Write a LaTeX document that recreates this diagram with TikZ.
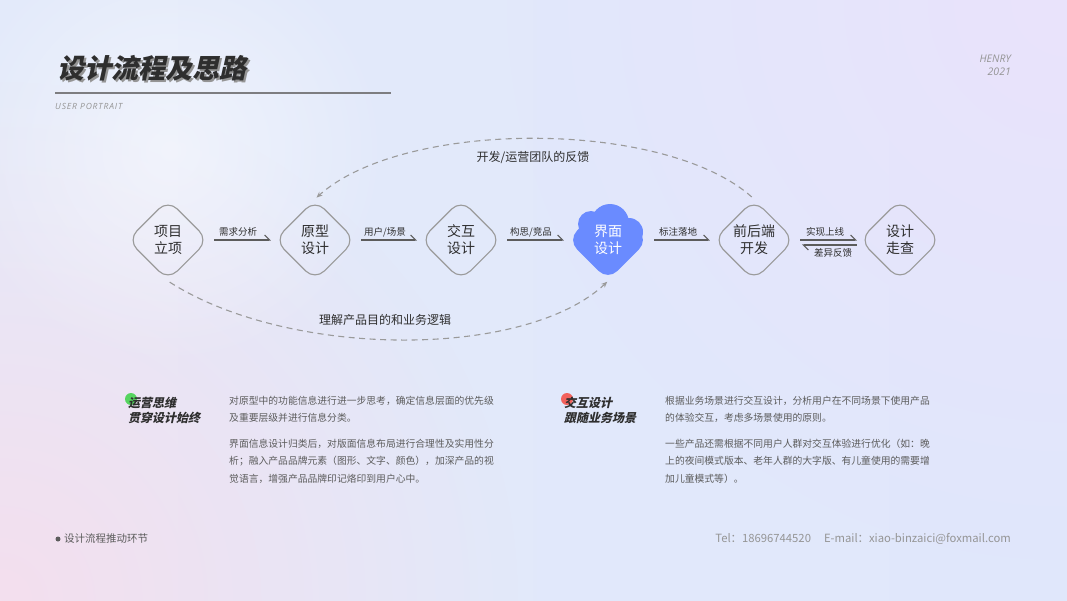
\documentclass[tikz,border=0pt]{standalone}
\usepackage{fontspec}
\setmainfont{Noto Sans CJK SC}
\newfontfamily\slantfont{Noto Sans CJK SC}[FakeSlant=0.22]
\newfontfamily\enfont{Open Sans}
\usetikzlibrary{arrows.meta,shapes.geometric,positioning,calc,fadings}
\definecolor{ink}{HTML}{2E2E2E}
\definecolor{txt}{HTML}{5C5C5C}
\definecolor{rim}{HTML}{9A9A9A}
\definecolor{soft}{HTML}{959595}
\definecolor{blob}{HTML}{6A8BFF}
\definecolor{dotgreen}{HTML}{55D45F}
\definecolor{dotred}{HTML}{F2615C}
\definecolor{bgleft}{HTML}{E3EAFA}
\definecolor{bgright}{HTML}{E0E7FB}
\definecolor{bgpink}{HTML}{F4DFEE}
\definecolor{bglilac}{HTML}{EAE3FB}
\tikzfading[name=glow, inner color=transparent!0, outer color=transparent!100]
\tikzstyle{stage}=[diamond, draw=rim, line width=1.1pt, rounded corners=13pt, minimum size=81pt, inner sep=0pt, align=center, text=ink, font=\fontsize{14pt}{17pt}\selectfont]
\tikzstyle{flow}=[draw=txt, line width=1.1pt, -{Straight Barb[left,length=5pt,width=10pt]}]
\tikzstyle{back}=[draw=rim, line width=1.1pt, dash pattern=on 6pt off 4.5pt, -{Stealth[length=6pt,width=5pt]}]
\tikzstyle{tag}=[text=ink, inner sep=0pt, font=\fontsize{9.5pt}{11pt}\selectfont]
\tikzstyle{note}=[text=ink, inner sep=0pt, font=\fontsize{12pt}{14pt}\selectfont]
\tikzstyle{head}=[anchor=north west, inner sep=0pt, text=ink, align=left, font=\slantfont\bfseries\fontsize{12pt}{15pt}\selectfont]
\tikzstyle{para}=[anchor=north west, inner sep=0pt, text=txt, align=left, font=\fontsize{9.8pt}{17.4pt}\selectfont]

\begin{document}
\begin{tikzpicture}[x=1pt,y=-1pt]
				\useasboundingbox (0,0) rectangle (1067,600);
				% background
				\begin{scope}
				\clip (0,0) rectangle (1067,600);
				\shade[left color=bgleft, right color=bgright] (0,0) rectangle (1067,600);
				\fill[bgpink, path fading=glow](0,600) circle (520);
				\fill[bglilac, path fading=glow](1067,0) circle (560);
				\fill[white, opacity=0.5, path fading=glow](170,150) circle (220);
				\end{scope}
				
				% title
				\node[anchor=west, inner sep=0pt, text=soft, font=\slantfont\bfseries\fontsize{27pt}{30pt}\selectfont] (ts)at(59,70){设计流程及思路};
				\node[anchor=west, inner sep=0pt, text=ink, font=\slantfont\bfseries\fontsize{27pt}{30pt}\selectfont] (T)at(57,68){设计流程及思路};
				\draw[draw={rgb,255:red,125;green,125;blue,128}, line width=1.5pt](55,93)--(391,93);
				\node[anchor=west, inner sep=0pt, text=soft, font=\enfont\itshape\addfontfeatures{LetterSpace=10}\fontsize{8.5pt}{10pt}\selectfont] (U)at(55,106){USER PORTRAIT};
				\node[anchor=east, inner sep=0pt, text=soft, font=\enfont\itshape\fontsize{10.5pt}{12pt}\selectfont] (N)at(1011,59){HENRY};
				\node[anchor=east, inner sep=0pt, text=soft, font=\enfont\itshape\fontsize{10.5pt}{12pt}\selectfont] (Y)at(1011,72){2021};
				
				% stages
				\fill[blob](591,224) circle (13);
				\fill[blob](610,223) circle (19);
				\fill[blob](629,232) circle (14);
				\node[stage] (A)at(168,240){项目\\立项};
				\node[stage] (B)at(315,240){原型\\设计};
				\node[stage] (C)at(461,240){交互\\设计};
				\node[stage, draw=none, fill=blob, text=white] (D)at(608,240){界面\\设计};
				\node[stage] (E)at(754,240){前后端\\开发};
				\node[stage] (F)at(900,240){设计\\走查};
				
				\draw[flow, shorten <=5pt, shorten >=3pt](A)--(B);
				\draw[flow, shorten <=5pt, shorten >=3pt](B)--(C);
				\draw[flow, shorten <=5pt, shorten >=3pt](C)--(D);
				\draw[flow, shorten <=5pt, shorten >=3pt](D)--(E);
				\draw[flow, shorten <=5pt, shorten >=2pt](E)--(F);
				\draw[flow, shorten <=2pt, shorten >=7pt]([yshift=-5pt]F.west)--([yshift=-5pt]E.east);
				\node[tag] (a)at(238,232){需求分析};
				\node[tag] (b)at(385,232){用户/场景};
				\node[tag] (c)at(531,232){构思/竞品};
				\node[tag] (d)at(678,232){标注落地};
				\node[tag] (e)at(825,232){实现上线};
				\node[tag] (f)at(833,253){差异反馈};
				
				\draw[back, shorten <=3pt, shorten >=2pt](E.north) .. controls (664,119) and (404,119) .. (B.north);
				\draw[back, shorten <=2pt, shorten >=1pt](A.south) .. controls (290,359) and (525,359) .. (D.south);
				\node[note] (g)at(533,158){开发/运营团队的反馈};
				\node[note] (h)at(385,320){理解产品目的和业务逻辑};
				
				% notes
				\fill[dotgreen](131,399) circle (6);
				\fill[dotred](567,399) circle (6);
				\node[head] (H1)at(128,397){运营思维\\贯穿设计始终};
				\node[head] (H2)at(564,397){交互设计\\跟随业务场景};
				\node[para] (P1)at(229,396){对原型中的功能信息进行进一步思考，确定信息层面的优先级\\及重要层级并进行信息分类。};
				\node[para] (P2)at(229,439){界面信息设计归类后，对版面信息布局进行合理性及实用性分\\析；融入产品品牌元素（图形、文字、颜色），加深产品的视\\觉语言，增强产品品牌印记烙印到用户心中。};
				\node[para] (P3)at(665,396){根据业务场景进行交互设计，分析用户在不同场景下使用产品\\的体验交互，考虑多场景使用的原则。};
				\node[para] (P4)at(665,439){一些产品还需根据不同用户人群对交互体验进行优化（如：晚\\上的夜间模式版本、老年人群的大字版、有儿童使用的需要增\\加儿童模式等）。};
				
				% footer
				\fill[txt](58,539) circle (2.5);
				\node[anchor=west, inner sep=0pt, text=txt, font=\fontsize{10.5pt}{12pt}\selectfont] (L)at(64,539){设计流程推动环节};
				\node[anchor=east, inner sep=0pt, text=soft, font=\fontsize{11.3pt}{12pt}\selectfont] (R)at(1011,539){Tel：18696744520\hspace{13pt}E-mail：xiao-binzaici@foxmail.com};
			\end{tikzpicture}
\end{document}
